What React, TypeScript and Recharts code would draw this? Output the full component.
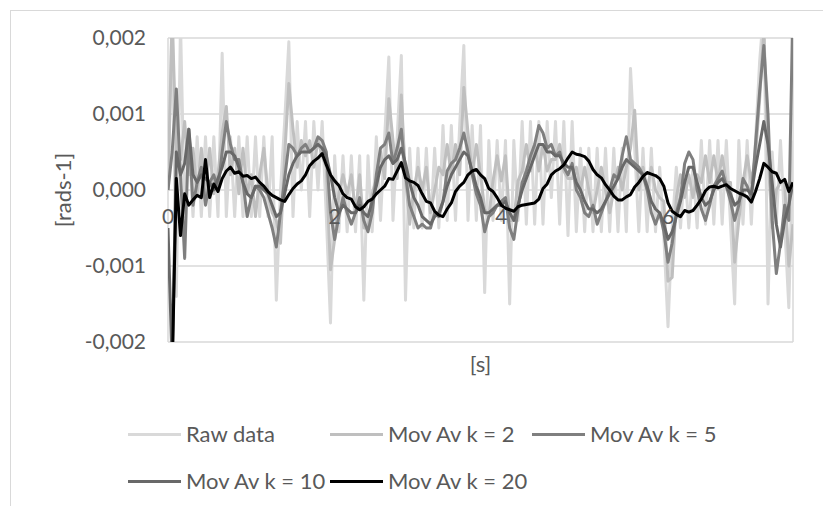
import React from "react";
import { CartesianGrid, Legend, Line, LineChart, ReferenceDot, XAxis, YAxis } from "recharts";

// sample step of the recording, in seconds
const STEP = 0.05;

// all series below are in units of 0.001 rad/s, one value per STEP
const rawData = [
  0.0, 2.4, -1.4, 2.2, -0.35, 0.7, -0.35, 0.7, -0.35, 0.7, -0.35, 0.7, -0.35, 1.8, -0.35, 0.7, -0.35, 0.7, -0.35, 0.7,
  -0.35, 0.7, -0.35, 0.7, -0.35, 0.7, -1.45, 0.0, 0.9, 1.95, -0.35, 0.9, 0.0, 0.9, -0.35, 0.9, 0.0, 0.9, -0.35, -1.75,
  0.45, -0.55, 0.45, -0.55, 0.45, -0.55, 0.45, -1.45, 0.45, -0.55, 0.7, -0.4, 0.7, 1.75, -0.4, 0.7, 1.77, -1.45, 0.55, -0.5,
  0.55, -0.5, 0.55, -0.5, 0.55, -0.5, 0.85, -0.4, 0.85, -0.4, 0.85, 1.9, -0.4, 0.85, -0.4, 0.85, -1.35, 0.65, -0.4, 0.65,
  -0.4, 0.65, -1.5, 0.65, -0.4, 0.9, -0.45, 0.9, -0.45, 0.9, -0.45, 0.9, -0.1, 0.9, -0.45, 0.9, -0.6, 0.9, -0.55, 0.55,
  -0.55, 0.55, -0.55, 0.55, -0.55, 0.55, -0.55, 0.55, -0.55, 0.55, -0.55, 1.6, 0.55, -0.55, 0.55, -0.55, 0.55, -0.55, 0.3, -0.6,
  -1.8, -0.5, 0.3, -0.5, 0.3, -0.5, 0.3, -0.5, 0.65, -0.45, 0.65, -0.45, 0.65, -0.45, 0.65, -0.45, -1.5, 0.65, -0.45, 0.65,
  -0.45, 0.65, 1.7, 2.4, -1.5, 0.5, -0.45, 0.65, -0.45, -1.55, 0.65,
];

const movAvK2 = [
  0.0, 2.3, 0.5, 0.4, 0.9, 0.2, 0.55, -0.05, 0.55, -0.05, 0.55, -0.05, 0.2, 0.75, 1.1, 0.2, 0.55, -0.05, 0.55, -0.05,
  0.2, -0.35, 0.2, 0.55, -0.05, -0.3, -0.4, -0.7, 0.45, 1.4, 0.8, 0.3, 0.65, 0.45, 0.65, 0.3, 0.65, 0.45, 0.3, -1.05,
  -0.65, -0.05, 0.2, -0.05, 0.2, -0.3, 0.2, -0.5, -0.5, -0.05, 0.15, 0.5, 0.15, 1.2, 0.65, 0.15, 1.25, 0.15, -0.45, 0.0,
  0.3, 0.0, 0.3, -0.3, 0.0, 0.3, 0.2, 0.6, 0.2, 0.6, 0.2, 1.35, 0.75, 0.2, 0.6, 0.2, -0.25, -0.35, 0.12, 0.45,
  0.12, 0.45, -0.4, -0.4, 0.12, 0.25, 0.6, 0.25, 0.6, 0.25, 0.6, 0.25, 0.4, 0.4, 0.6, 0.25, 0.15, 0.15, 0.3, 0.0,
  0.3, 0.0, -0.3, 0.0, 0.3, 0.0, -0.3, 0.0, 0.3, 0.0, 0.3, 0.55, 1.05, 0.0, 0.3, 0.0, 0.3, 0.0, -0.1, -0.15,
  -1.2, -1.15, -0.1, 0.2, -0.1, 0.2, -0.1, 0.2, 0.1, 0.45, 0.1, 0.45, 0.1, 0.45, 0.1, 0.1, -0.95, -0.4, 0.1, 0.45,
  0.1, 0.45, 1.2, 2.1, 0.45, -0.5, 0.0, 0.1, 0.1, -1.0, -0.45,
];

const movAvK5 = [
  0.0, 0.5, 1.33, 0.2, -0.9, 0.8, -0.2, 0.1, 0.3, -0.2, 0.1, 0.2, 0.0, 0.5, 0.9, 0.6, 0.4, 0.4, 0.1, -0.35,
  -0.1, 0.05, 0.0, -0.1, -0.3, -0.5, -0.75, -0.3, 0.15, 0.6, 0.55, 0.45, 0.55, 0.6, 0.5, 0.55, 0.7, 0.65, 0.5, -0.3,
  -0.65, -0.35, -0.1, -0.3, -0.45, -0.3, -0.1, -0.4, -0.55, -0.3, 0.2, 0.55, 0.6, 0.75, 0.35, 0.55, 0.8, 0.2, -0.2, -0.35,
  -0.5, -0.45, -0.5, -0.5, -0.3, -0.35, -0.15, 0.25, 0.35, 0.4, 0.55, 0.75, 0.5, 0.2, -0.05, -0.2, -0.55, -0.35, -0.3, -0.2,
  -0.15, -0.1, -0.5, -0.65, -0.25, 0.1, 0.25, 0.45, 0.6, 0.85, 0.75, 0.55, 0.6, 0.45, 0.5, 0.3, 0.2, 0.35, 0.0, -0.1,
  -0.3, -0.35, -0.2, -0.45, -0.3, -0.15, 0.0, 0.2, 0.15, 0.45, 0.7, 0.4, 0.35, 0.3, 0.2, 0.0, -0.3, -0.45, -0.3, -0.55,
  -0.95, -0.7, -0.3, -0.1, 0.35, 0.5, 0.4, 0.0, -0.25, -0.4, -0.2, 0.05, 0.15, 0.25, 0.05, -0.15, -0.4, -0.2, 0.15, 0.05,
  -0.1, 0.6, 1.3, 1.9, 1.0, -0.4, -1.1, -0.7, -0.2, -0.4, 2.5,
];

const movAvK10 = [
  -0.5, -2.3, 0.5, 0.2, 0.35, 0.8, 0.2, 0.1, 0.2, 0.15, 0.1, 0.0, 0.15, 0.3, 0.5, 0.5, 0.45, 0.3, 0.1, -0.05,
  -0.1, 0.05, 0.05, 0.0, -0.05, -0.2, -0.35, -0.3, -0.05, 0.2, 0.35, 0.45, 0.5, 0.5, 0.5, 0.55, 0.6, 0.55, 0.45, 0.2,
  -0.1, -0.3, -0.2, -0.25, -0.3, -0.3, -0.2, -0.3, -0.35, -0.15, 0.05, 0.3, 0.4, 0.45, 0.35, 0.4, 0.55, 0.35, 0.1, -0.1,
  -0.2, -0.35, -0.4, -0.45, -0.35, -0.3, -0.15, 0.05, 0.2, 0.3, 0.4, 0.5, 0.45, 0.25, 0.05, -0.1, -0.3, -0.3, -0.25, -0.2,
  -0.2, -0.15, -0.3, -0.4, -0.2, 0.0, 0.15, 0.3, 0.45, 0.6, 0.6, 0.5, 0.5, 0.45, 0.45, 0.35, 0.3, 0.3, 0.1, 0.0,
  -0.15, -0.25, -0.25, -0.3, -0.25, -0.15, -0.05, 0.05, 0.15, 0.3, 0.4, 0.35, 0.3, 0.25, 0.2, 0.05, -0.15, -0.25, -0.3, -0.45,
  -0.65, -0.55, -0.35, -0.15, 0.1, 0.3, 0.3, 0.1, -0.1, -0.2, -0.15, 0.0, 0.1, 0.15, 0.05, -0.05, -0.2, -0.15, 0.0, 0.0,
  -0.05, 0.3, 0.6, 0.9, 0.6, 0.1, -0.45, -0.75, -0.4, -0.2, 0.1,
];

const movAvK20 = [
  -2.5, -2.4, 0.15, -0.6, -0.05, -0.2, -0.13, -0.07, -0.1, 0.4, -0.1, 0.08, -0.02, 0.15, 0.25, 0.3, 0.22, 0.24, 0.18, 0.19,
  0.15, 0.17, 0.1, 0.05, -0.02, -0.07, -0.1, -0.13, -0.15, -0.06, 0.02, 0.08, 0.12, 0.2, 0.32, 0.38, 0.42, 0.48, 0.33, 0.2,
  0.12, 0.06, -0.05, -0.1, -0.12, -0.22, -0.26, -0.22, -0.15, -0.12, -0.05, 0.0, 0.05, 0.15, 0.14, 0.25, 0.36, 0.16, 0.12, 0.1,
  0.06, -0.05, -0.15, -0.17, -0.28, -0.33, -0.35, -0.25, -0.17, -0.02, 0.05, 0.1, 0.2, 0.25, 0.27, 0.2, 0.15, 0.02, -0.02, -0.1,
  -0.2, -0.24, -0.26, -0.28, -0.22, -0.2, -0.19, -0.18, -0.17, -0.12, 0.02, 0.08, 0.2, 0.25, 0.28, 0.33, 0.42, 0.5, 0.47, 0.46,
  0.44, 0.38, 0.27, 0.2, 0.16, 0.07, 0.0, -0.08, -0.13, -0.13, -0.09, -0.06, 0.04, 0.1, 0.18, 0.23, 0.21, 0.19, 0.15, 0.05,
  -0.17, -0.28, -0.32, -0.35, -0.27, -0.29, -0.27, -0.2, -0.12, -0.01, 0.04, 0.05, 0.03, 0.05, 0.07, 0.02, -0.01, -0.04, -0.06, -0.09,
  -0.16, -0.02, 0.15, 0.35, 0.3, 0.24, 0.22, 0.1, 0.14, -0.02, 0.1,
];

const xTicks = [0, 2, 4, 6];
const yTicks = [-0.002, -0.001, 0, 0.001, 0.002];

const series = [
  { key: "raw", name: "Raw data", values: rawData, color: "#d9d9d9" },
  { key: "k2", name: "Mov Av k = 2", values: movAvK2, color: "#bfbfbf" },
  { key: "k5", name: "Mov Av k = 5", values: movAvK5, color: "#7f7f7f" },
  { key: "k10", name: "Mov Av k = 10", values: movAvK10, color: "#686868" },
  { key: "k20", name: "Mov Av k = 20", values: movAvK20, color: "#000000" },
];

const data = rawData.map((_, i) => {
  const row: any = { t: +(i * STEP).toFixed(2) };
  series.forEach((s) => {
    row[s.key] = s.values[i] * 0.001;
  });
  return row;
});

const FONT = "Lato, 'Open Sans', sans-serif";
const TEXT = "#595959";

const fmt = (v: number) => v.toFixed(3).replace(".", ",");

// legend keeps the series order (Recharts would sort it by name)
const renderLegend = () => {
  const rows = [series.slice(0, 3), series.slice(3)];
  return (
    <div style={{ paddingTop: 40, fontFamily: FONT, fontSize: 22, color: TEXT }}>
      {rows.map((row, r) => (
        <div key={r} style={{ display: "flex", height: 24, marginBottom: 23 }}>
          {row.map((it) => (
            <div key={it.key} style={{ width: 202, display: "flex", alignItems: "center" }}>
              <span style={{ width: 53, height: 3, background: it.color, display: "inline-block", marginRight: 5 }} />
              <span style={{ whiteSpace: "nowrap", lineHeight: "24px" }}>{it.name}</span>
            </div>
          ))}
        </div>
      ))}
    </div>
  );
};

export default function App() {
  return (
    <div style={{ position: "relative", width: 823, height: 506, overflow: "hidden", background: "#fff" }}>
      <style>{"body{margin:0}"}</style>
      <div
        style={{ position: "absolute", left: 10, top: 10, width: 840, height: 540, border: "1px solid #d9d9d9" }}
      />
      <LineChart width={823} height={506} data={data} margin={{ top: 38, right: 30, left: 68, bottom: 14 }}>
        <CartesianGrid stroke="#d9d9d9" strokeWidth={1.5} />
        <XAxis
          dataKey="t"
          type="number"
          domain={[0, 7.5]}
          ticks={xTicks}
          allowDataOverflow
          tick={false}
          tickLine={false}
          axisLine={false}
          height={40}
          label={{ value: "[s]", position: "insideTop", offset: 14, fill: TEXT, fontSize: 22, fontFamily: FONT }}
        />
        <YAxis
          type="number"
          domain={[-0.002, 0.002]}
          ticks={yTicks}
          allowDataOverflow
          width={100}
          tickFormatter={fmt}
          tickLine={false}
          axisLine={false}
          tickSize={0}
          tickMargin={22}
          tick={{ fill: TEXT, fontSize: 21, fontFamily: FONT }}
          label={{ value: "[rads-1]", angle: -90, position: "center", dx: -55, fill: TEXT, fontSize: 22, fontFamily: FONT }}
        />
        {xTicks.map((t) => (
          <ReferenceDot
            key={t}
            x={t}
            y={0}
            r={0}
            fill="none"
            stroke="none"
            label={{ value: String(t), position: "bottom", offset: 19, fill: TEXT, fontSize: 21, fontFamily: FONT }}
          />
        ))}
        {series.map((s) => (
          <Line
            key={s.key}
            dataKey={s.key}
            name={s.name}
            stroke={s.color}
            strokeWidth={3}
            dot={false}
            activeDot={false}
            type="linear"
            strokeLinejoin="round"
            isAnimationActive={false}
          />
        ))}
        <Legend content={renderLegend} wrapperStyle={{ left: 128, top: 382, width: 660, height: 110 }} />
      </LineChart>
    </div>
  );
}
